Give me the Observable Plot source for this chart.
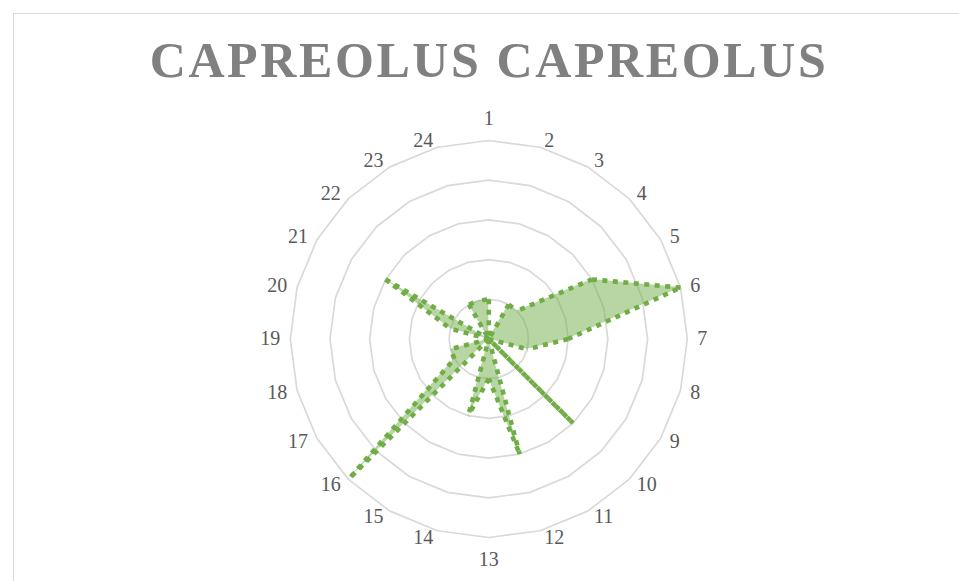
<!DOCTYPE html>
<html>
<head>
<meta charset="utf-8">
<script src="https://cdn.jsdelivr.net/npm/d3@7"></script>
<script src="https://cdn.jsdelivr.net/npm/@observablehq/plot@0.6"></script>
<style>
  html, body { margin: 0; padding: 0; background: #fff; overflow: hidden; }
  #page { position: relative; width: 959px; height: 581px; overflow: hidden; }
  #frame { position: absolute; left: 13px; top: 13px; width: 1000px; height: 700px; border: 1px solid #d9d9d9; box-sizing: border-box; }
  #title { position: absolute; left: 0; top: 34px; width: 978px; text-align: center;
           font-family: "Liberation Serif", "Times New Roman", serif; font-weight: bold;
           font-size: 50px; line-height: 53px; letter-spacing: 2.6px; color: #808080; white-space: nowrap; }
  #plot { position: absolute; left: 0; top: 100px; }
</style>
</head>
<body>
<div id="page">
  <div id="frame"></div>
  <div id="title">CAPREOLUS CAPREOLUS</div>
  <div id="plot"></div>
</div>
<script>
// ---- data ----
const hours = ["1","2","3","4","5","6","7","8","9","10","11","12","13","14","15","16","17","18","19","20","21","22","23","24"];
const values = [1, 0, 1, 1, 3, 5, 2, 1, 0, 3, 0, 3, 1, 2, 0, 5, 1, 1, 0, 1, 3, 0, 1, 1];
const rings = [1, 2, 3, 4, 5];

// ---- layout ----
const W = 959, H = 481, CX = 488.3, CY = 238.5, U = 39.7;
const RMAX = d3.max(rings);
const n = hours.length;
const ang = i => (i * 2 * Math.PI) / n;
const pt = (r, i) => ({x: r * Math.sin(ang(i)), y: r * Math.cos(ang(i))});

const ringData = rings.flatMap(r => hours.map((h, i) => ({ring: r, ...pt(r, i)})));
const seriesData = values.map((v, i) => ({hour: hours[i], value: v, ...pt(v, i)}));
const segData = seriesData.map((d, i) => {
  const e = seriesData[(i + 1) % n];
  return {i, x1: d.x, y1: d.y, x2: e.x, y2: e.y};
});

const labelData = hours.map((h, i) => {
  const s = Math.sin(ang(i)), c = Math.cos(ang(i));
  const vx = RMAX * s, vy = RMAX * c;
  if (Math.abs(s) < 1e-6) {
    return {label: h, anchor: "middle", lx: vx, ly: vy + c * 21.7 / U};
  }
  return {
    label: h,
    anchor: s > 0 ? "start" : "end",
    lx: vx + Math.sign(s) * (2 + 8 * Math.abs(s)) / U,
    ly: vy + c * 7 / U
  };
});

const textStyle = {x: "lx", y: "ly", text: "label", fontSize: 20,
  fontFamily: "'Liberation Serif', 'Times New Roman', serif", fill: "#595959"};
const segStyle = {x1: "x1", y1: "y1", x2: "x2", y2: "y2", stroke: "#70ad47", strokeWidth: 4.6,
  strokeDasharray: "5 5.5", strokeLinecap: "butt"};

const chart = Plot.plot({
  width: W,
  height: H,
  margin: 0,
  x: {type: "linear", domain: [-CX / U, (W - CX) / U], range: [0, W], axis: null},
  y: {type: "linear", domain: [CY / U, -(H - CY) / U], range: [0, H], axis: null},
  marks: [
    Plot.line(ringData, {x: "x", y: "y", z: "ring", curve: "linear-closed", stroke: "#d9d9d9", strokeWidth: 1.7}),
    Plot.area(seriesData, {x1: "x", y1: "y", x2: 0, y2: 0, curve: "linear-closed", fill: "#70ad47", fillOpacity: 0.5}),
    Plot.link(segData.filter(d => d.i % 2 === 0), {...segStyle, strokeDashoffset: 0}),
    Plot.link(segData.filter(d => d.i % 2 === 1), {...segStyle, strokeDashoffset: 6.9}),
    Plot.text(labelData.filter(d => d.anchor === "start"), {...textStyle, textAnchor: "start"}),
    Plot.text(labelData.filter(d => d.anchor === "end"), {...textStyle, textAnchor: "end"}),
    Plot.text(labelData.filter(d => d.anchor === "middle"), {...textStyle, textAnchor: "middle"})
  ]
});
document.getElementById("plot").append(chart);
</script>
</body>
</html>
